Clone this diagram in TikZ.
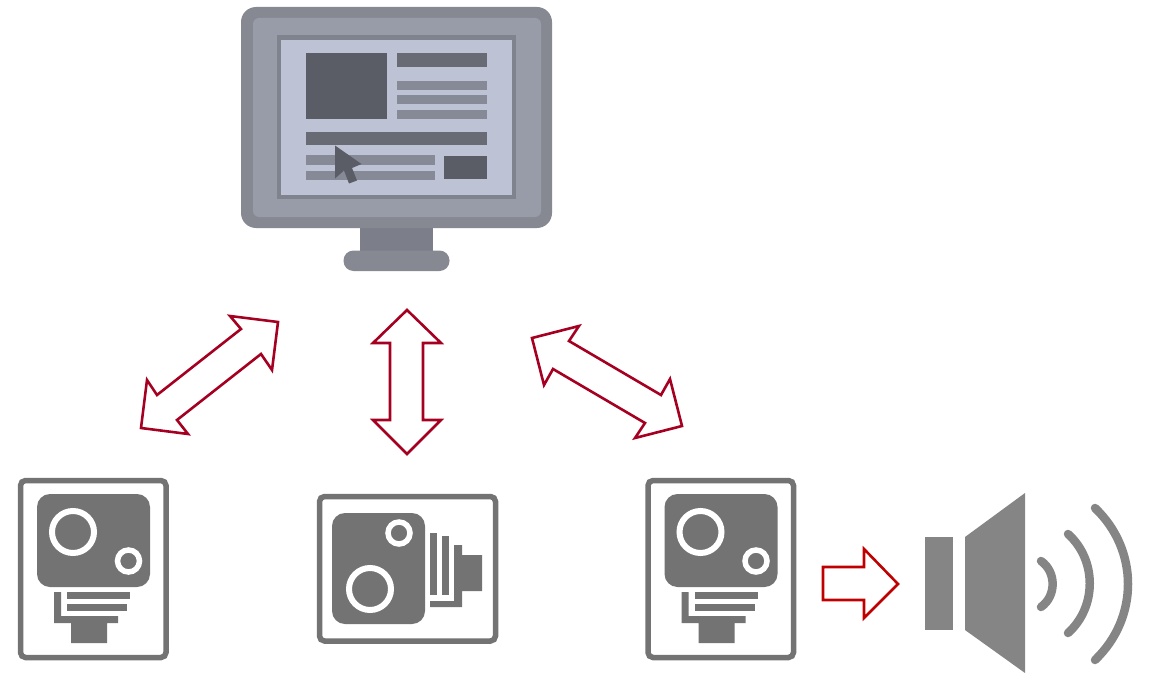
\documentclass[tikz,border=0pt]{standalone}
\definecolor{camgray}{HTML}{737373}
\definecolor{spkgray}{HTML}{858585}
\definecolor{monedge}{HTML}{868992}
\definecolor{monface}{HTML}{989CA8}
\definecolor{monframe}{HTML}{7F838E}
\definecolor{monscreen}{HTML}{BDC3D4}
\definecolor{mondark}{HTML}{5A5D66}
\definecolor{monbar}{HTML}{686B74}
\definecolor{monline}{HTML}{868A96}
\definecolor{monstand}{HTML}{7C7F8A}
\definecolor{arrowdark}{HTML}{A50021}
\definecolor{arrowred}{HTML}{C00000}
\tikzset{
  blockarrow/.style={draw=arrowdark,line width=2.6pt,fill=white,miter limit=10,line join=miter},
  redarrow/.style={blockarrow,draw=arrowred},
  camfill/.style={fill=camgray,draw=none},
  camframe/.style={draw=camgray,line width=5.5pt,fill=white,rounded corners=5pt},
  lensring/.style={draw=white,line width=6pt},
  lenssmall/.style={draw=white,line width=5.5pt},
  wave/.style={draw=spkgray,line width=8.5pt,line cap=round},
  pics/vcam/.style={code={
    \draw[camframe] (20.5,480.5) rectangle (166,657.5);
    \fill[camfill,rounded corners=13pt] (37,494) rectangle (150,587);
    \draw[lensring] (73,532) circle (21);
    \draw[lenssmall] (128.5,561) circle (11);
    \fill[camfill] (54,592) -- (61,592) -- (61,616) -- (118,616) -- (118,623) -- (107,623) -- (107,643) -- (71,643) -- (71,623) -- (54,623) -- cycle;
    \fill[camfill] (67,592) rectangle (130,599);
    \fill[camfill] (67,604) rectangle (127,611);
  }}
}
\begin{document}
\begin{tikzpicture}[x=1pt,y=-1pt]
\useasboundingbox (0,0) rectangle (1151,674);
% monitor
\fill[monstand] (360,225) rectangle (433,254);
\fill[monedge,rounded corners=10pt] (343.5,250.5) rectangle (449.5,271);
\fill[monedge,rounded corners=15pt] (241,7) rectangle (552,228);
\fill[monface,rounded corners=6pt] (253,18) rectangle (541,217);
\fill[monframe] (277,35) rectangle (516,199);
\fill[monscreen] (281,40) rectangle (512,195);
\fill[mondark] (306,53.5) rectangle (387,119);
\fill[monbar] (397,53.5) rectangle (487,67);
\fill[monline] (397,81.5) rectangle (487,90);
\fill[monline] (397,95.5) rectangle (487,104.5);
\fill[monline] (397,110) rectangle (487,119);
\fill[monbar] (306,132) rectangle (487,145);
\fill[monline] (306,155.5) rectangle (435,164.5);
\fill[monline] (306,170.5) rectangle (435,179.5);
\fill[mondark] (444,156) rectangle (487,179);
\fill[mondark] (335,145.5) -- (361.5,164) -- (352,168) -- (357,180.5) -- (349,183.5) -- (344,170.5) -- (335,178.5) -- cycle;
% block arrows
\draw[blockarrow] (278,322) -- (230,316) -- (241,329) -- (157,395) -- (147,380) -- (141,428) -- (188,434) -- (177,420) -- (261,354) -- (272,370) -- cycle;
\draw[blockarrow] (407,310) -- (373,343) -- (390,343) -- (390,420) -- (373,420) -- (407,454) -- (441,420) -- (423,420) -- (423,343) -- (441,343) -- cycle;
\draw[blockarrow] (532,338) -- (579,326) -- (569,341) -- (661,395) -- (670,379) -- (682,426) -- (635,438) -- (645,423) -- (553,369) -- (544,385) -- cycle;
\draw[redarrow] (823,567) -- (864,567) -- (864,549) -- (898,584) -- (864,618) -- (864,600) -- (823,600) -- cycle;
% cameras
\pic at (0,0) {vcam};
\pic at (627.5,0) {vcam};
\draw[camframe] (319.5,496.5) rectangle (495.5,641);
\fill[camfill,rounded corners=13pt] (332,513) rectangle (425,624);
\draw[lensring] (370,589) circle (21);
\draw[lenssmall] (399,533) circle (11);
\fill[camfill] (430,533) rectangle (437,595);
\fill[camfill] (442,536) rectangle (449,595);
\fill[camfill] (454,545) -- (462,545) -- (462,555) -- (482,555) -- (482,591) -- (462,591) -- (462,607) -- (430,607) -- (430,601) -- (454,601) -- cycle;
% speaker
\fill[spkgray] (925,537) rectangle (953,630);
\fill[spkgray] (965,537) -- (1025,493) -- (1025,673) -- (965,630) -- cycle;
\draw[wave] (1041,561) .. controls (1056.5,572) and (1056.5,596) .. (1041,607);
\draw[wave] (1068,534) .. controls (1097,560) and (1097,607) .. (1068,633);
\draw[wave] (1095,508) .. controls (1139,550) and (1139,618) .. (1095,660);
\end{tikzpicture}
\end{document}
